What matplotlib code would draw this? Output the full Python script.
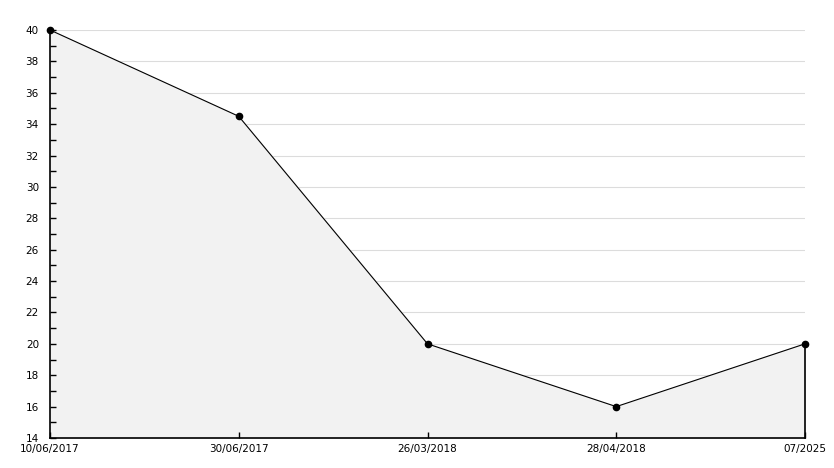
import numpy as np
import matplotlib.pyplot as plt
from matplotlib.ticker import MultipleLocator

dates = ["10/06/2017", "30/06/2017", "26/03/2018", "28/04/2018", "07/2025"]
values = [40, 34.5, 20, 16, 20]
grid_levels = list(range(16, 41, 2))

fig = plt.figure(figsize=(8.34, 4.68), dpi=100)
ax = fig.add_axes([50 / 834, 30 / 468, 755 / 834, 408 / 468])

x = np.arange(len(dates))
# grid lines under the fill, so they only show above the line
for g in grid_levels:
    ax.axhline(g, color='#dcdcdc', lw=0.8, zorder=0.5)
ax.fill_between(x, values, 14, color='#f2f2f2', zorder=1)
ax.plot([x[-1], x[-1]], [14, values[-1]], color='black', lw=1.2, zorder=2, clip_on=False)
ax.plot(x, values, color='black', lw=0.8, marker='o', markersize=4.5, zorder=3, clip_on=False)

ax.set_xlim(0, len(dates) - 1)
ax.set_ylim(14, 40)
ax.set_xticks(x)
ax.set_xticklabels(dates)
ax.yaxis.set_major_locator(MultipleLocator(2))
ax.yaxis.set_minor_locator(MultipleLocator(1))

for s in ['top', 'right']:
    ax.spines[s].set_visible(False)
for s in ['left', 'bottom']:
    ax.spines[s].set_linewidth(1.2)

ax.tick_params(axis='both', which='both', direction='in', length=4, width=1,
               labelsize=7.5)
ax.tick_params(axis='x', pad=4)
ax.tick_params(axis='y', pad=8)

fig.savefig('out.png', dpi=100)
